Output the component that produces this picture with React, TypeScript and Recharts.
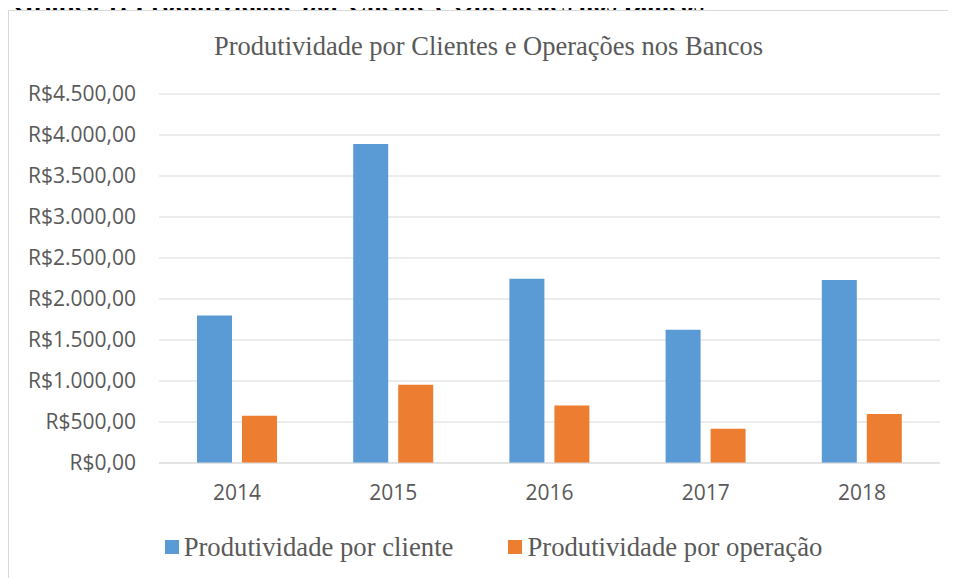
import React from 'react';
import { BarChart, Bar, XAxis, YAxis, CartesianGrid, Legend } from 'recharts';

const categories = ['2014', '2015', '2016', '2017', '2018'];
const porCliente = [1800, 3890, 2248, 1626, 2232];
const porOperacao = [577, 955, 702, 418, 598];
const yTicks = [0, 500, 1000, 1500, 2000, 2500, 3000, 3500, 4000, 4500];

const seriesNames = ['Produtividade por cliente', 'Produtividade por operação'];
const colors = ['#5B9BD5', '#ED7D31'];

const data = categories.map((c, i) => ({
  year: c,
  cliente: porCliente[i],
  operacao: porOperacao[i],
}));

const fmt = (v: number) => {
  const [int, dec] = v.toFixed(2).split('.');
  const withDots = int.replace(/\B(?=(\d{3})+(?!\d))/g, '.');
  return `R$${withDots},${dec}`;
};

const axisFont = "'Open Sans', sans-serif";
const serif = "'Liberation Serif', 'Times New Roman', serif";

const LegendContent = () => (
  <div
    style={{
      display: 'flex',
      justifyContent: 'center',
      alignItems: 'center',
      height: 60,
      paddingLeft: 38,
      fontFamily: serif,
      fontSize: 26.7,
      color: '#595959',
    }}
  >
    {seriesNames.map((n, i) => (
      <div key={n} style={{ display: 'flex', alignItems: 'center', marginLeft: i === 0 ? 0 : 55 }}>
        <span style={{ display: 'inline-block', width: 14, height: 14, background: colors[i], marginRight: 5 }} />
        <span>{n}</span>
      </div>
    ))}
  </div>
);

export default function App() {
  return (
    <div style={{ position: 'relative', width: 948, height: 570 }}>
      <div
        style={{
          position: 'absolute',
          zIndex: 1,
          left: 5,
          top: -17,
          fontFamily: serif,
          fontWeight: 'bold',
          fontSize: 26.4,
          lineHeight: '24px',
          whiteSpace: 'nowrap',
          color: '#000',
        }}
      >
        Gráfico 1: Produtividade por Cliente e Operações nos Bancos
      </div>
      <div
        style={{
          position: 'absolute',
          zIndex: 2,
          left: 0,
          top: 2,
          width: 960,
          height: 600,
          borderTop: '1px solid #d9d9d9',
          borderLeft: '1px solid #d9d9d9',
          background: '#fff',
        }}
      >
        <div
          style={{
            position: 'absolute',
            left: 0,
            width: 960,
            top: 19,
            fontFamily: serif,
            fontSize: 26.5,
            lineHeight: '32px',
            color: '#595959',
          }}
        >
          <span style={{ position: 'absolute', left: 479.5, transform: 'translateX(-50%)', whiteSpace: 'nowrap' }}>
            Produtividade por Clientes e Operações nos Bancos
          </span>
        </div>
        <BarChart
          width={948}
          height={566}
          data={data}
          margin={{ top: 83, right: 17, left: 0, bottom: 0 }}
          barSize={35}
          barGap={10}
        >
          <CartesianGrid vertical={false} stroke="#d9d9d9" strokeWidth={1} />
          <XAxis
            dataKey="year"
            height={54}
            tickLine={false}
            axisLine={{ stroke: '#d9d9d9' }}
            tickSize={6}
            tickMargin={16}
            tick={{ fill: '#595959', fontSize: 21, fontFamily: axisFont }}
          />
          <YAxis
            width={150}
            domain={[0, 4500]}
            ticks={yTicks}
            tickFormatter={fmt}
            axisLine={false}
            tickLine={false}
            tickSize={6}
            tickMargin={17}
            tick={{ fill: '#595959', fontSize: 21, fontFamily: axisFont }}
          />
          <Legend verticalAlign="bottom" height={60} content={() => <LegendContent />} />
          <Bar dataKey="cliente" name={seriesNames[0]} fill={colors[0]} isAnimationActive={false} />
          <Bar dataKey="operacao" name={seriesNames[1]} fill={colors[1]} isAnimationActive={false} />
        </BarChart>
      </div>
    </div>
  );
}
